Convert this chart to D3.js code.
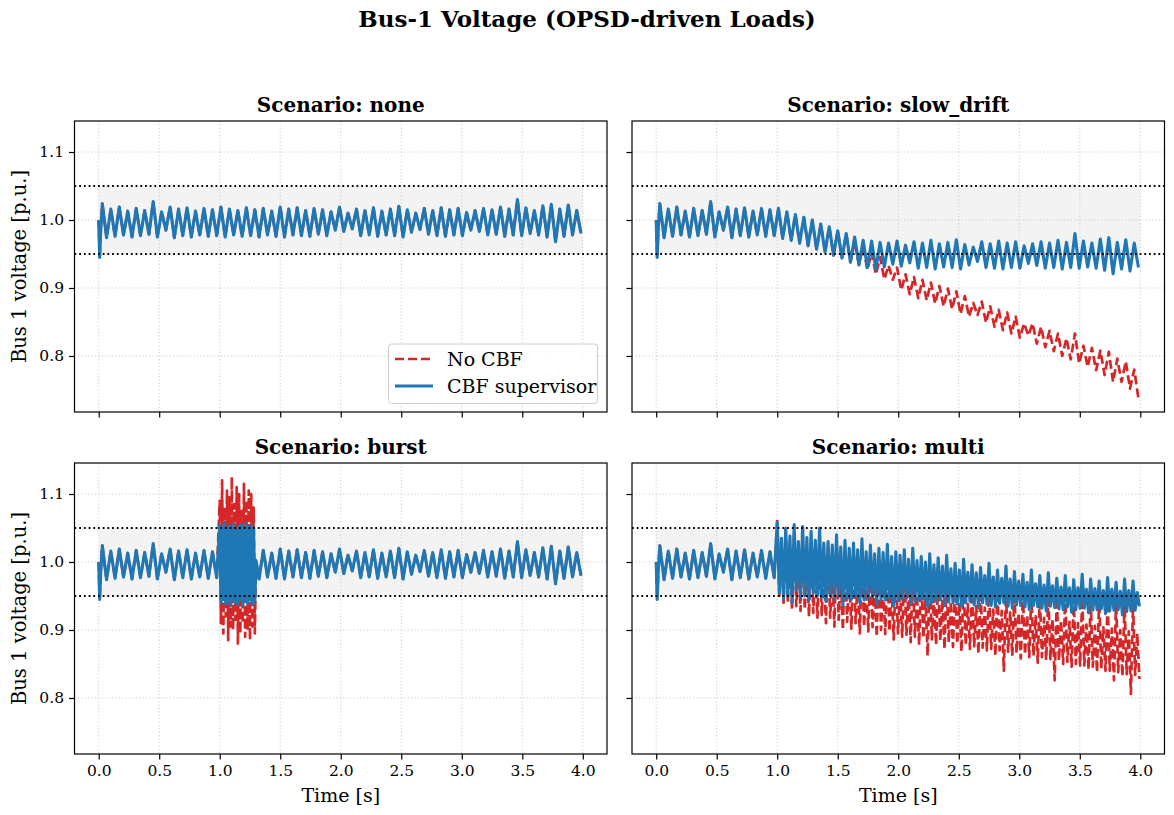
<!DOCTYPE html>
<html>
<head>
<meta charset="utf-8">
<script src="https://cdn.jsdelivr.net/npm/d3@7"></script>
<style>
  body { margin: 0; background: #fff; }
  text { font-family: "DejaVu Serif", serif; fill: #000; }
</style>
</head>
<body>
<svg id="chart"></svg>
<script>
// ---- data (values in p.u.) ----
const scenarios = ["none", "slow_drift", "burst", "multi"];
const xTicks = [0, 0.5, 1, 1.5, 2, 2.5, 3, 3.5, 4];
const yTicks = [0.8, 0.9, 1.0, 1.1];
const limits = [0.95, 1.05];

// start-up transient, samples at t = 0, 0.008, 0.018
const startT = [0, 0.008, 0.018];
const startV = [1.0, 0.945, 0.99];

// baseline load response, peak/trough every 0.035 s from t = 0.03
const baseStep = 0.035;
const baseT0 = 0.03;
const baseV = [
  1.024, 0.974, 1.016, 0.976, 1.019, 0.978, 1.013, 0.975, 1.017, 0.977,
  1.014, 0.979, 1.027, 0.975, 1.012, 0.985, 1.019, 0.974, 1.016, 0.977,
  1.018, 0.975, 1.013, 0.978, 1.017, 0.976, 1.015, 0.977, 1.019, 0.975,
  1.016, 0.978, 1.014, 0.976, 1.018, 0.977, 1.015, 0.975, 1.017, 0.978,
  1.013, 0.976, 1.019, 0.975, 1.016, 0.978, 1.018, 0.977, 1.014, 0.976,
  1.017, 0.979, 1.015, 0.977, 1.012, 0.985, 1.019, 0.983, 1.010, 0.987,
  1.016, 0.977, 1.014, 0.978, 1.018, 0.976, 1.013, 0.978, 1.016, 0.977,
  1.020, 0.975, 1.015, 0.982, 1.010, 0.986, 1.017, 0.979, 1.014, 0.977,
  1.018, 0.976, 1.015, 0.978, 1.017, 0.977, 1.011, 0.985, 1.014, 0.983,
  1.017, 0.978, 1.015, 0.979, 1.019, 0.976, 1.016, 0.978, 1.030, 0.977,
  1.018, 0.980, 1.014, 0.978, 1.021, 0.975, 1.023, 0.968, 1.016, 0.976,
  1.022, 0.978, 1.014, 0.980
];

// slow_drift: CBF from t = 1.01 on, No CBF from t = 1.64 on (same step)
const driftCbfV = [
  1.017, 0.973, 1.012, 0.970, 1.008, 0.966, 1.004, 0.962, 1.000, 0.957, 0.994, 0.953,
  0.990, 0.948, 0.984, 0.944, 0.980, 0.938, 0.975, 0.934, 0.970, 0.930, 0.969, 0.928,
  0.967, 0.931, 0.966, 0.935, 0.969, 0.932, 0.963, 0.937, 0.968, 0.929, 0.966, 0.930,
  0.970, 0.928, 0.965, 0.931, 0.967, 0.930, 0.971, 0.928, 0.964, 0.934, 0.960, 0.939,
  0.968, 0.930, 0.965, 0.929, 0.969, 0.928, 0.966, 0.930, 0.968, 0.929, 0.962, 0.936,
  0.965, 0.933, 0.968, 0.929, 0.966, 0.930, 0.970, 0.928, 0.967, 0.930, 0.980, 0.929,
  0.969, 0.931, 0.966, 0.929, 0.972, 0.926, 0.974, 0.921, 0.967, 0.928, 0.971, 0.925,
  0.966, 0.930
];
const driftNoCbfV = [
  0.968, 0.934, 0.960, 0.927, 0.952, 0.920, 0.945, 0.913, 0.933, 0.912, 0.930, 0.897,
  0.920, 0.891, 0.916, 0.885, 0.912, 0.882, 0.908, 0.877, 0.903, 0.873, 0.899, 0.869,
  0.895, 0.862, 0.888, 0.858, 0.878, 0.860, 0.880, 0.849, 0.873, 0.843, 0.868, 0.838,
  0.864, 0.833, 0.858, 0.827, 0.848, 0.830, 0.848, 0.818, 0.843, 0.813, 0.837, 0.807,
  0.833, 0.800, 0.826, 0.795, 0.833, 0.789, 0.815, 0.784, 0.812, 0.779, 0.808, 0.772,
  0.806, 0.762, 0.796, 0.762, 0.792, 0.752, 0.780, 0.737
];

// burst window 1.00 .. 1.30 s, one sample every 0.01 s
const burstStep = 0.01;
const burstCbfV = [
  1.055, 0.940, 1.050, 0.945, 1.058, 0.938, 1.048, 0.942, 1.054, 0.936,
  1.050, 0.944, 1.056, 0.940, 1.046, 0.938, 1.052, 0.945, 1.055, 0.936,
  1.049, 0.942, 1.057, 0.939, 1.051, 0.944, 1.054, 0.937, 1.048, 0.941, 1.002
];
const burstNoCbfV = [
  1.090, 0.910, 1.120, 0.895, 1.080, 0.920, 1.105, 0.885, 1.095, 0.905,
  1.125, 0.900, 1.085, 0.915, 1.110, 0.880, 1.100, 0.895, 1.075, 0.910,
  1.115, 0.890, 1.090, 0.900, 1.105, 0.885, 1.100, 0.905, 1.080, 0.895, 1.002
];

// multi attack 1.0 .. 4.0 s, one sample every 0.0175 s
const multiStep = 0.0175;
const multiCbfV = [
  1.058, 0.955, 1.035, 0.945, 1.048, 0.952, 1.038, 0.940, 1.055, 0.958, 1.030, 0.948,
  1.052, 0.950, 1.036, 0.944, 1.045, 0.955, 1.032, 0.950, 1.050, 0.948, 1.028, 0.942,
  1.030, 0.952, 1.025, 0.945, 1.040, 0.950, 1.022, 0.936, 1.032, 0.946, 1.020, 0.945,
  1.028, 0.950, 1.018, 0.940, 1.034, 0.944, 1.015, 0.946, 1.025, 0.948, 1.012, 0.938,
  1.020, 0.945, 1.014, 0.944, 1.026, 0.947, 1.008, 0.936, 1.015, 0.943, 1.010, 0.945,
  1.018, 0.946, 1.004, 0.938, 1.020, 0.942, 1.002, 0.944, 1.008, 0.945, 1.000, 0.935,
  1.012, 0.940, 0.996, 0.943, 1.006, 0.944, 0.994, 0.936, 1.010, 0.941, 0.990, 0.940,
  0.998, 0.938, 0.988, 0.935, 1.004, 0.940, 0.985, 0.942, 0.996, 0.937, 0.984, 0.933,
  0.992, 0.940, 0.980, 0.938, 0.998, 0.936, 0.978, 0.934, 0.988, 0.939, 0.976, 0.940,
  0.994, 0.935, 0.975, 0.932, 0.986, 0.937, 0.972, 0.936, 0.982, 0.934, 0.970, 0.930,
  0.988, 0.936, 0.968, 0.934, 0.980, 0.932, 0.966, 0.928, 0.984, 0.935, 0.965, 0.933,
  0.976, 0.931, 0.963, 0.930, 0.980, 0.934, 0.962, 0.926, 0.974, 0.930, 0.962, 0.932,
  0.982, 0.932, 0.960, 0.925, 0.975, 0.929, 0.961, 0.930, 0.972, 0.931, 0.958, 0.924,
  0.977, 0.928, 0.960, 0.929, 0.970, 0.930, 0.957, 0.922, 0.975, 0.927, 0.958, 0.928,
  0.972, 0.929, 0.955, 0.935
];
const multiNoCbfV = [
  1.062, 0.950, 1.020, 0.940, 1.050, 0.940, 1.010, 0.930, 1.045, 0.935, 1.005, 0.928,
  1.040, 0.930, 1.000, 0.920, 1.035, 0.925, 0.995, 0.918, 1.030, 0.922, 0.990, 0.910,
  1.020, 0.918, 0.985, 0.905, 1.025, 0.915, 0.980, 0.900, 1.015, 0.912, 0.978, 0.902,
  1.010, 0.910, 0.975, 0.895, 1.012, 0.905, 0.970, 0.898, 1.000, 0.904, 0.968, 0.890,
  1.005, 0.900, 0.965, 0.894, 0.995, 0.898, 0.962, 0.886, 0.990, 0.895, 0.960, 0.890,
  0.992, 0.893, 0.955, 0.882, 0.985, 0.890, 0.952, 0.878, 0.980, 0.888, 0.950, 0.862,
  0.982, 0.886, 0.948, 0.878, 0.975, 0.884, 0.945, 0.872, 0.972, 0.882, 0.942, 0.875,
  0.968, 0.880, 0.940, 0.868, 0.970, 0.878, 0.938, 0.872, 0.965, 0.876, 0.935, 0.865,
  0.960, 0.874, 0.933, 0.870, 0.962, 0.872, 0.930, 0.862, 0.958, 0.870, 0.928, 0.840,
  0.955, 0.868, 0.926, 0.862, 0.957, 0.866, 0.925, 0.858, 0.952, 0.864, 0.922, 0.860,
  0.955, 0.862, 0.920, 0.852, 0.950, 0.860, 0.918, 0.856, 0.952, 0.857, 0.916, 0.826,
  0.948, 0.855, 0.914, 0.850, 0.950, 0.853, 0.912, 0.846, 0.946, 0.850, 0.910, 0.848,
  0.948, 0.848, 0.908, 0.842, 0.944, 0.846, 0.906, 0.838, 0.946, 0.843, 0.904, 0.840,
  0.942, 0.840, 0.902, 0.826, 0.944, 0.838, 0.900, 0.832, 0.940, 0.835, 0.898, 0.806,
  0.938, 0.834, 0.895, 0.828
];

// ---- build series from the sample lists ----
const samples = (t0, dt, vals) => vals.map((v, i) => ({ t: t0 + dt * i, v }));
const start = startV.map((v, i) => ({ t: startT[i], v }));
const preAttack = baseV.slice(0, 28); // up to t = 0.975
const afterBurstIdx = 37;              // first baseline sample after the burst

const noneCBF = start.concat(samples(baseT0, baseStep, baseV));
const noneNoCBF = noneCBF;

const driftCBF = start.concat(samples(baseT0, baseStep, preAttack.concat(driftCbfV)));
const driftNoCBF = start.concat(
  samples(baseT0, baseStep, preAttack.concat(driftCbfV.slice(0, 18), driftNoCbfV))
);

const burstTail = samples(baseT0 + baseStep * afterBurstIdx, baseStep, baseV.slice(afterBurstIdx));
const burstCBF = start.concat(samples(baseT0, baseStep, preAttack),
  samples(1.0, burstStep, burstCbfV), burstTail);
const burstNoCBF = start.concat(samples(baseT0, baseStep, preAttack),
  samples(1.0, burstStep, burstNoCbfV), burstTail);

const multiCBF = start.concat(samples(baseT0, baseStep, preAttack), samples(1.0, multiStep, multiCbfV));
const multiNoCBF = start.concat(samples(baseT0, baseStep, preAttack), samples(1.0, multiStep, multiNoCbfV));

const seriesCBF = [noneCBF, driftCBF, burstCBF, multiCBF];
const seriesNoCBF = [noneNoCBF, driftNoCBF, burstNoCBF, multiNoCBF];

// ---- layout ----
const width = 1174, height = 815;
const colX = [74.5, 632];
const rowY = [121, 463];
const pw = 532.5, ph = 291;
const red = "#d62728", blue = "#1f77b4";

const svg = d3.select("#chart").attr("width", width).attr("height", height);

svg.append("text")
  .attr("x", 587).attr("y", 27)
  .attr("text-anchor", "middle")
  .style("font-size", "23px").style("font-weight", "bold")
  .text("Bus-1 Voltage (OPSD-driven Loads)");

const defs = svg.append("defs");

scenarios.forEach((name, k) => {
  const col = k % 2, row = Math.floor(k / 2);
  const x0 = colX[col], y0 = rowY[row];

  const x = d3.scaleLinear().domain([-0.2, 4.2]).range([0, pw]);
  const y = d3.scaleLinear().domain([0.7176, 1.1456]).range([ph, 0]);

  const g = svg.append("g").attr("transform", `translate(${x0},${y0})`);

  defs.append("clipPath").attr("id", "clip" + k)
    .append("rect").attr("width", pw).attr("height", ph);

  // allowed band
  g.append("rect")
    .attr("x", x(0)).attr("width", x(4) - x(0))
    .attr("y", y(limits[1])).attr("height", y(limits[0]) - y(limits[1]))
    .attr("fill", "#f3f3f3");

  // grid
  xTicks.forEach(t => {
    g.append("line")
      .attr("x1", x(t)).attr("x2", x(t)).attr("y1", 0).attr("y2", ph)
      .attr("stroke", "#cccccc").attr("stroke-width", 1)
      .attr("stroke-dasharray", "1.2,2.2");
  });
  yTicks.forEach(v => {
    g.append("line")
      .attr("x1", 0).attr("x2", pw).attr("y1", y(v)).attr("y2", y(v))
      .attr("stroke", "#cccccc").attr("stroke-width", 1)
      .attr("stroke-dasharray", "1.2,2.2");
  });

  const line = d3.line().x(d => x(d.t)).y(d => y(d.v));
  const plot = g.append("g").attr("clip-path", `url(#clip${k})`);

  plot.append("path")
    .datum(seriesNoCBF[k])
    .attr("d", line)
    .attr("fill", "none")
    .attr("stroke", red)
    .attr("stroke-width", 2.7)
    .attr("stroke-dasharray", "9,4")
    .attr("stroke-linejoin", "round");

  plot.append("path")
    .datum(seriesCBF[k])
    .attr("d", line)
    .attr("fill", "none")
    .attr("stroke", blue)
    .attr("stroke-width", 3.1)
    .attr("stroke-linejoin", "round");

  // voltage limits
  limits.forEach(v => {
    plot.append("line")
      .attr("x1", 0).attr("x2", pw).attr("y1", y(v)).attr("y2", y(v))
      .attr("stroke", "#000").attr("stroke-width", 1.8)
      .attr("stroke-dasharray", "1.8,2.9");
  });

  // axes
  const xAxis = d3.axisBottom(x).tickValues(xTicks).tickSize(5.5).tickPadding(5)
    .tickFormat(row === 1 ? d3.format(".1f") : "");
  const yAxis = d3.axisLeft(y).tickValues(yTicks).tickSize(5.5).tickPadding(5)
    .tickFormat(col === 0 ? d3.format(".1f") : "");

  const gx = g.append("g").attr("transform", `translate(0,${ph})`).call(xAxis);
  const gy = g.append("g").call(yAxis);
  [gx, gy].forEach(a => {
    a.select(".domain").remove();
    a.selectAll("line").attr("stroke", "#000").attr("stroke-width", 1.2);
    a.selectAll("text").style("font-size", "15.5px").style("font-family", "DejaVu Serif");
  });

  g.append("rect")
    .attr("width", pw).attr("height", ph)
    .attr("fill", "none").attr("stroke", "#000").attr("stroke-width", 1.2);

  g.append("text")
    .attr("x", pw / 2).attr("y", -9.5)
    .attr("text-anchor", "middle")
    .style("font-size", "20px").style("font-weight", "bold")
    .text("Scenario: " + name);

  if (row === 1) {
    g.append("text")
      .attr("x", pw / 2).attr("y", ph + 48)
      .attr("text-anchor", "middle")
      .style("font-size", "19px")
      .text("Time [s]");
  }
  if (col === 0) {
    g.append("text")
      .attr("transform", `translate(${26 - x0},${ph / 2}) rotate(-90)`)
      .attr("text-anchor", "middle")
      .style("font-size", "19.5px")
      .text("Bus 1 voltage [p.u.]");
  }

  if (k === 0) {
    const lg = g.append("g").attr("transform", `translate(${pw - 218.5},${ph - 68})`);
    lg.append("rect")
      .attr("width", 209).attr("height", 59.5).attr("rx", 3)
      .attr("fill", "#fff").attr("fill-opacity", 0.8)
      .attr("stroke", "#cccccc").attr("stroke-width", 1);
    const items = [
      { label: "No CBF", color: red, dash: "9,4" },
      { label: "CBF supervisor", color: blue, dash: null }
    ];
    items.forEach((it, i) => {
      const yy = 15 + i * 27;
      lg.append("line")
        .attr("x1", 6.5).attr("x2", 44.5).attr("y1", yy).attr("y2", yy)
        .attr("stroke", it.color).attr("stroke-width", it.dash ? 2.7 : 3.1)
        .attr("stroke-dasharray", it.dash);
      lg.append("text")
        .attr("x", 58.5).attr("y", yy + 6.5)
        .style("font-size", "19px")
        .text(it.label);
    });
  }
});
</script>
</body>
</html>
